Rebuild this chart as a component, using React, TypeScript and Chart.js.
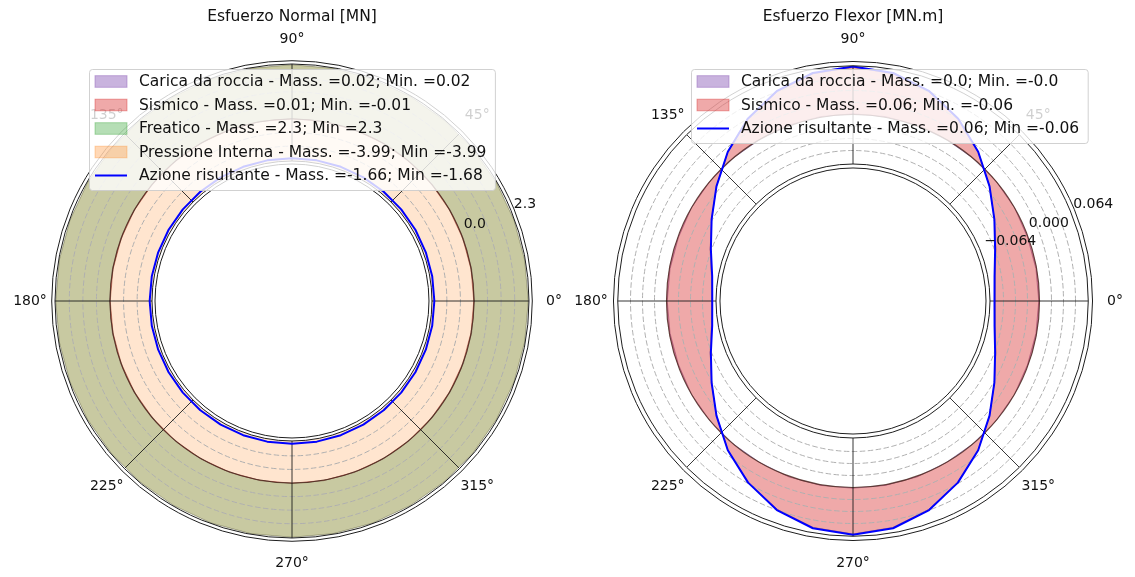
import React, { useEffect, useRef } from 'react';
import { Chart, registerables } from 'chart.js';

Chart.register(...registerables);

// ---------------- data ----------------
const THETA_DEG = [0, 10, 20, 30, 40, 50, 60, 70, 80, 90, 100, 110, 120, 130, 140, 150, 160, 170,
  180, 190, 200, 210, 220, 230, 240, 250, 260, 270, 280, 290, 300, 310, 320, 330, 340, 350];
const THETA_TICKS = [0, 45, 90, 135, 180, 225, 270, 315];
const THETA_TICK_LABELS = ['0°', '45°', '90°', '135°', '180°', '225°', '270°', '315°'];

// Esfuerzo Normal [MN]
const N_TITLE = 'Esfuerzo Normal [MN]';
const N_CARICA = [0.02, 0.02, 0.02, 0.02, 0.02, 0.02, 0.02, 0.02, 0.02,
  0.02, 0.02, 0.02, 0.02, 0.02, 0.02, 0.02, 0.02, 0.02,
  0.02, 0.02, 0.02, 0.02, 0.02, 0.02, 0.02, 0.02, 0.02,
  0.02, 0.02, 0.02, 0.02, 0.02, 0.02, 0.02, 0.02, 0.02];
const N_SISMICO = [-0.010, -0.009, -0.008, -0.005, -0.002, 0.002, 0.005, 0.008, 0.009,
  0.010, 0.009, 0.008, 0.005, 0.002, -0.002, -0.005, -0.008, -0.009,
  -0.010, -0.009, -0.008, -0.005, -0.002, 0.002, 0.005, 0.008, 0.009,
  0.010, 0.009, 0.008, 0.005, 0.002, -0.002, -0.005, -0.008, -0.009];
const N_FREATICO = [2.3, 2.3, 2.3, 2.3, 2.3, 2.3, 2.3, 2.3, 2.3,
  2.3, 2.3, 2.3, 2.3, 2.3, 2.3, 2.3, 2.3, 2.3,
  2.3, 2.3, 2.3, 2.3, 2.3, 2.3, 2.3, 2.3, 2.3,
  2.3, 2.3, 2.3, 2.3, 2.3, 2.3, 2.3, 2.3, 2.3];
const N_PRESSIONE = [-3.99, -3.99, -3.99, -3.99, -3.99, -3.99, -3.99, -3.99, -3.99,
  -3.99, -3.99, -3.99, -3.99, -3.99, -3.99, -3.99, -3.99, -3.99,
  -3.99, -3.99, -3.99, -3.99, -3.99, -3.99, -3.99, -3.99, -3.99,
  -3.99, -3.99, -3.99, -3.99, -3.99, -3.99, -3.99, -3.99, -3.99];
const N_RISULTANTE = [-1.680, -1.679, -1.678, -1.675, -1.672, -1.668, -1.665, -1.662, -1.661,
  -1.660, -1.661, -1.662, -1.665, -1.668, -1.672, -1.675, -1.678, -1.679,
  -1.680, -1.679, -1.678, -1.675, -1.672, -1.668, -1.665, -1.662, -1.661,
  -1.660, -1.661, -1.662, -1.665, -1.668, -1.672, -1.675, -1.678, -1.679];
const N_LEGEND = [
  'Carica da roccia - Mass. =0.02; Min. =0.02',
  'Sismico - Mass. =0.01; Min. =-0.01',
  'Freatico - Mass. =2.3; Min =2.3',
  'Pressione Interna - Mass. =-3.99; Min =-3.99',
  'Azione risultante - Mass. =-1.66; Min =-1.68',
];
const N_RTICKS = [0, 2.3];
const N_RTICK_LABELS = ['0.0', '2.3'];
const N_MINOR_GRID = [-1.15, -0.575, 0.575, 1.15, 1.725];

// Esfuerzo Flexor [MN.m]
const M_TITLE = 'Esfuerzo Flexor [MN.m]';
const M_CARICA = [-0.001, -0.001, -0.001, 0.000, 0.000, 0.000, 0.000, 0.001, 0.001,
  0.001, 0.001, 0.001, 0.000, 0.000, 0.000, 0.000, -0.001, -0.001,
  -0.001, -0.001, -0.001, 0.000, 0.000, 0.000, 0.000, 0.001, 0.001,
  0.001, 0.001, 0.001, 0.000, 0.000, 0.000, 0.000, -0.001, -0.001];
const M_SISMICO = [-0.059, -0.056, -0.046, -0.031, -0.011, 0.011, 0.032, 0.048, 0.059,
  0.063, 0.059, 0.048, 0.032, 0.011, -0.011, -0.031, -0.046, -0.057,
  -0.060, -0.057, -0.046, -0.031, -0.011, 0.011, 0.031, 0.047, 0.058,
  0.062, 0.058, 0.047, 0.031, 0.011, -0.011, -0.031, -0.046, -0.056];
const M_RISULTANTE = [-0.060, -0.057, -0.047, -0.031, -0.011, 0.011, 0.032, 0.049, 0.060,
  0.064, 0.060, 0.049, 0.032, 0.011, -0.011, -0.031, -0.047, -0.058,
  -0.061, -0.058, -0.047, -0.031, -0.011, 0.011, 0.031, 0.048, 0.059,
  0.063, 0.059, 0.048, 0.031, 0.011, -0.011, -0.031, -0.047, -0.057];
const M_LEGEND = [
  'Carica da roccia - Mass. =0.0; Min. =-0.0',
  'Sismico - Mass. =0.06; Min. =-0.06',
  'Azione risultante - Mass. =0.06; Min =-0.06',
];
const M_RTICKS = [-0.064, 0, 0.064];
const M_RTICK_LABELS = ['\u22120.064', '0.000', '0.064'];
const M_MINOR_GRID = [-0.048, -0.032, -0.016, 0.016, 0.032, 0.048];

// ---------------- styles / geometry ----------------
const FONT = '"DejaVu Sans", "Liberation Sans", sans-serif';
const TEXT = '#111111';
const PURPLE = 'rgba(148,103,189,0.5)';
const RED = 'rgba(214,39,40,0.4)';
const GREEN_LEGEND = 'rgba(44,160,44,0.35)';
const OLIVE_FILL = 'rgba(130,132,40,0.44)';
const ORANGE_FILL = 'rgba(255,127,14,0.2)';
const ORANGE_LEGEND = 'rgba(255,127,14,0.3)';
const BLUE = '#0000ff';

const N_AXIS = { zeroPx: 182, pxPerUnit: 23.6, clip: [-1.78, 2.33], spines: [-1.907, 2.47] };
const M_AXIS = { zeroPx: 186.5, pxPerUnit: 750, clip: [-0.066, 0.065], spines: [-0.0713, 0.0707] };

const PANEL_N = {
  title: N_TITLE,
  axis: N_AXIS,
  minorGrid: N_MINOR_GRID,
  rTicks: N_RTICKS,
  rTickLabels: N_RTICK_LABELS,
  legendLeft: null,
  series: [
    { label: N_LEGEND[0], values: N_CARICA, fill: PURPLE, legend: PURPLE, edge: 'rgba(90,50,120,0.6)', edgeWidth: 0.8 },
    { label: N_LEGEND[1], values: N_SISMICO, fill: RED, legend: RED, edge: 'rgba(120,30,30,0.6)', edgeWidth: 0.8 },
    { label: N_LEGEND[2], values: N_FREATICO, fill: OLIVE_FILL, legend: GREEN_LEGEND, edge: 'rgba(70,70,30,0.5)', edgeWidth: 0.8 },
    { label: N_LEGEND[3], values: N_PRESSIONE, fill: ORANGE_FILL, legend: ORANGE_LEGEND, edge: 'rgba(150,80,20,0.5)', edgeWidth: 0.8 },
    { label: N_LEGEND[4], values: N_RISULTANTE, line: true, color: BLUE },
  ],
};

const PANEL_M = {
  title: M_TITLE,
  axis: M_AXIS,
  minorGrid: M_MINOR_GRID,
  rTicks: M_RTICKS,
  rTickLabels: M_RTICK_LABELS,
  legendLeft: 120, // canvas-relative left edge of the legend frame
  series: [
    { label: M_LEGEND[0], values: M_CARICA, fill: PURPLE, legend: PURPLE, edge: 'rgba(90,50,120,0.6)', edgeWidth: 0.8 },
    { label: M_LEGEND[1], values: M_SISMICO, fill: RED, legend: RED, edge: 'rgba(120,30,30,0.6)', edgeWidth: 0.8 },
    { label: M_LEGEND[2], values: M_RISULTANTE, line: true, color: BLUE },
  ],
};

// Chart.js radar goes clockwise from startAngle; matplotlib goes counter-clockwise from east.
function toRadarOrder(values: any[]) {
  const n = values.length;
  return values.map((_, i) => values[(n - i) % n]);
}

function polar(s: any, deg: number, d: number) {
  const a = (deg * Math.PI) / 180;
  return [s.xCenter + d * Math.cos(a), s.yCenter - d * Math.sin(a)];
}

function ring(ctx: any, s: any, v: number) {
  const d = s.getDistanceFromCenterForValue(v);
  ctx.beginPath();
  ctx.arc(s.xCenter, s.yCenter, d, 0, Math.PI * 2);
  ctx.stroke();
}

function drawLegend(ctx: any, cx: number, leftEdge: number | null, top: number, series: any[]) {
  ctx.save();
  ctx.font = '15.5px ' + FONT;
  const maxW = Math.max(...series.map((it) => ctx.measureText(it.label).width));
  const w = 50 + maxW + 8.5;
  const h = series.length * 23.5 + 3.5;
  const x = (leftEdge == null ? Math.round(cx - w / 2) : leftEdge) + 0.5;
  const y = top + 0.5;
  ctx.beginPath();
  if (ctx.roundRect) ctx.roundRect(x, y, w, h, 3);
  else ctx.rect(x, y, w, h);
  ctx.fillStyle = 'rgba(255,255,255,0.8)';
  ctx.fill();
  ctx.strokeStyle = 'rgba(204,204,204,0.9)';
  ctx.lineWidth = 1;
  ctx.stroke();
  series.forEach((it, i) => {
    const yc = top + 12.5 + 23.5 * i;
    const px = x + 5.5;
    if (it.line) {
      ctx.strokeStyle = it.color;
      ctx.lineWidth = 2;
      ctx.beginPath();
      ctx.moveTo(px, yc);
      ctx.lineTo(px + 32, yc);
      ctx.stroke();
    } else {
      ctx.fillStyle = it.legend;
      ctx.fillRect(px, yc - 5.8, 32, 11.6);
      ctx.strokeStyle = it.legend;
      ctx.lineWidth = 1;
      ctx.strokeRect(px, yc - 5.8, 32, 11.6);
    }
    ctx.fillStyle = TEXT;
    ctx.textAlign = 'left';
    ctx.textBaseline = 'middle';
    ctx.fillText(it.label, x + 49.5, yc + 0.5);
  });
  ctx.restore();
}

function decorPlugin(panel: any) {
  const A = panel.axis;
  return {
    id: 'polarDecor',
    beforeDatasetsDraw(chart: any) {
      const s = chart.scales.r;
      const ctx = chart.ctx;
      const dOut = s.getDistanceFromCenterForValue(A.clip[1]);
      const dIn = s.getDistanceFromCenterForValue(A.clip[0]);
      ctx.save();
      ctx.beginPath();
      ctx.arc(s.xCenter, s.yCenter, dOut, 0, Math.PI * 2);
      ctx.moveTo(s.xCenter + dIn, s.yCenter);
      ctx.arc(s.xCenter, s.yCenter, dIn, 0, Math.PI * 2);
      ctx.clip('evenodd');
    },
    beforeDatasetDraw(chart: any, args: any) {
      if (args.index !== 0) return;
      const s = chart.scales.r;
      const ctx = chart.ctx;
      ctx.save();
      ctx.lineWidth = 1;
      ctx.strokeStyle = '#b0b0b0';
      ctx.setLineDash([5.5, 2.5]);
      panel.minorGrid.forEach((v: number) => ring(ctx, s, v));
      ctx.setLineDash([]);
      ctx.strokeStyle = 'rgba(70,35,25,0.8)';
      ctx.lineWidth = 1.2;
      ring(ctx, s, 0);
      ctx.strokeStyle = 'rgba(20,20,20,0.85)';
      ctx.lineWidth = 1;
      const d0 = s.getDistanceFromCenterForValue(A.clip[0]);
      const d1 = s.getDistanceFromCenterForValue(A.clip[1]);
      THETA_TICKS.forEach((t) => {
        const [x0, y0] = polar(s, t, d0);
        const [x1, y1] = polar(s, t, d1);
        ctx.beginPath();
        ctx.moveTo(x0, y0);
        ctx.lineTo(x1, y1);
        ctx.stroke();
      });
      ctx.restore();
    },
    afterDatasetsDraw(chart: any) {
      const s = chart.scales.r;
      const ctx = chart.ctx;
      ctx.restore();
      ctx.save();
      ctx.strokeStyle = '#1e1e1e';
      ctx.lineWidth = 1;
      [A.clip[0], A.clip[1], A.spines[0], A.spines[1]].forEach((v) => ring(ctx, s, v));

      ctx.fillStyle = TEXT;
      ctx.font = '14px ' + FONT;
      ctx.textAlign = 'center';
      ctx.textBaseline = 'middle';
      THETA_TICKS.forEach((t, i) => {
        const [x, y] = polar(s, t, 262);
        ctx.fillText(THETA_TICK_LABELS[i], x, y);
      });

      ctx.textAlign = 'left';
      ctx.textBaseline = 'alphabetic';
      panel.rTicks.forEach((v: number, i: number) => {
        const [x, y] = polar(s, 22.5, s.getDistanceFromCenterForValue(v));
        ctx.fillText(panel.rTickLabels[i], x + 3.5, y - 3);
      });

      ctx.font = '15.5px ' + FONT;
      ctx.textAlign = 'center';
      ctx.textBaseline = 'middle';
      ctx.fillText(panel.title, s.xCenter, 16.5);
      ctx.restore();

      drawLegend(ctx, s.xCenter, panel.legendLeft, 69, panel.series);
    },
  };
}

function PolarPanel({ left, width, height, panel }: any) {
  const ref = useRef<HTMLCanvasElement | null>(null);
  useEffect(() => {
    const canvas = ref.current;
    if (!canvas) return;
    const dA = Math.min(width, height) / 2;
    const rMin = -panel.axis.zeroPx / panel.axis.pxPerUnit;
    const rMax = rMin + dA / panel.axis.pxPerUnit;
    const labels = toRadarOrder(THETA_DEG).map((t) => String(t));
    const fills = panel.series.filter((s: any) => !s.line);
    const line = panel.series.find((s: any) => s.line);
    const datasets = [
      {
        label: line.label,
        data: toRadarOrder(line.values),
        borderColor: line.color,
        backgroundColor: 'rgba(0,0,0,0)',
        borderWidth: 2,
        fill: false,
      },
      ...fills
        .slice()
        .reverse()
        .map((s: any) => ({
          label: s.label,
          data: toRadarOrder(s.values),
          backgroundColor: s.fill,
          borderColor: s.edge,
          borderWidth: s.edgeWidth,
          fill: 'origin',
        })),
    ];
    const chart = new Chart(canvas, {
      type: 'radar',
      data: { labels, datasets },
      options: {
        responsive: false,
        animation: false,
        events: [],
        layout: { padding: 0 },
        elements: { point: { radius: 0, hoverRadius: 0 }, line: { tension: 0, borderJoinStyle: 'round' } },
        plugins: {
          legend: { display: false },
          title: { display: false },
          tooltip: { enabled: false },
        },
        scales: {
          r: {
            min: rMin,
            max: rMax,
            startAngle: 90,
            beginAtZero: false,
            grid: { display: false, circular: true },
            angleLines: { display: false },
            pointLabels: { display: false },
            ticks: { display: false },
          },
        },
      } as any,
      plugins: [decorPlugin(panel)],
    } as any);
    return () => chart.destroy();
  }, []);
  return (
    <canvas
      ref={ref}
      width={width}
      height={height}
      style={{ position: 'absolute', left, top: 0, width, height }}
    />
  );
}

export default function App() {
  return (
    <div
      style={{
        position: 'absolute',
        left: 0,
        top: 0,
        width: 1135,
        height: 577,
        overflow: 'hidden',
        background: '#ffffff',
      }}
    >
      <PolarPanel left={0} width={584} height={602} panel={PANEL_N} />
      <PolarPanel left={571} width={564} height={602} panel={PANEL_M} />
    </div>
  );
}
